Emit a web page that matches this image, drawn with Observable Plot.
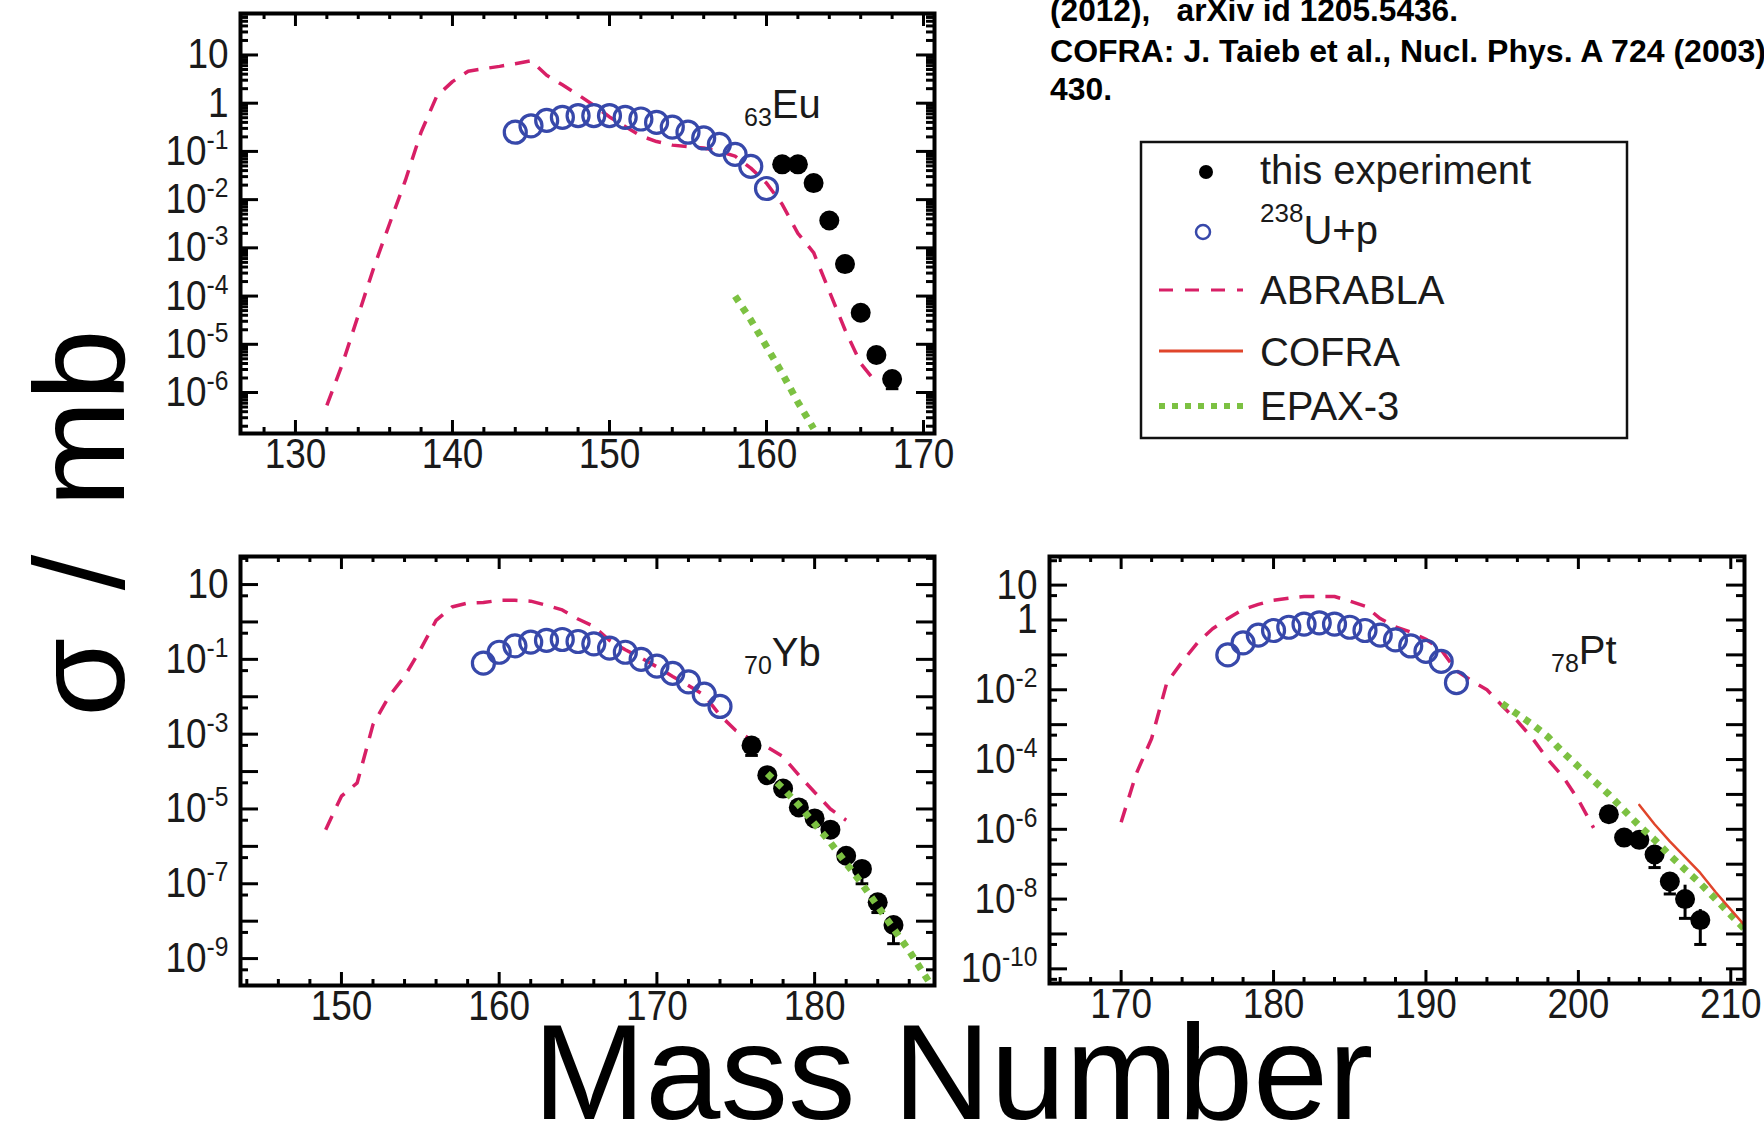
<!DOCTYPE html>
<html><head><meta charset="utf-8">
<script src="https://cdn.jsdelivr.net/npm/d3@7"></script>
<script src="https://cdn.jsdelivr.net/npm/@observablehq/plot@0.6"></script>
<style>
body{margin:0;background:#fff;}
#wrap{position:relative;width:1764px;height:1127px;overflow:hidden;background:#fff;font-family:"Liberation Sans",Arial,sans-serif;}
#wrap > svg, #wrap > div{position:absolute;}
</style></head><body><div id="wrap"></div>
<script>
// ---------------- data (sigma in mb vs mass number) ----------------
// 63Eu
const euUpMass = [144,145,146,147,148,149,150,151,152,153,154,155,156,157,158,159,160];
const euUpSigma = [0.25,0.34,0.44,0.51,0.55,0.55,0.55,0.51,0.47,0.40,0.32,0.25,0.19,0.14,0.087,0.049,0.017];
const euExpMass = [161,162,163,164,165,166,167,168];
const euExpSigma = [0.054,0.054,0.022,0.0037,4.6e-4,4.5e-5,6e-6,1.9e-6];
const euErrMass = [168];
const euErrLo = [1.2e-6];
const euErrHi = [1.9e-6];
const euAbrMass = [132,133,134,135,136,137,138,139,140,141,142,143,144,145,146,147,148,149,150,151,152,153,154,155,156,157,158,159,160,161,162,163,164,165,166,167];
const euAbrSigma = [5.4e-7,4e-6,4e-5,4e-4,3.2e-3,0.025,0.25,1.4,2.8,4.6,5.2,5.8,6.6,7.6,3.8,2.4,1.5,0.9,0.52,0.33,0.21,0.16,0.135,0.126,0.118,0.1,0.08,0.045,0.022,0.008,0.002,8e-4,1.26e-4,2e-5,4e-6,1.6e-6];
const euEpaxMass = [158,159,160,161,162,163];
const euEpaxSigma = [1e-4,3.2e-5,9e-6,2.5e-6,6.3e-7,1.8e-7];

// 70Yb
const ybUpMass = [159,160,161,162,163,164,165,166,167,168,169,170,171,172,173,174];
const ybUpSigma = [0.079,0.155,0.23,0.29,0.32,0.34,0.30,0.26,0.20,0.155,0.1,0.066,0.042,0.025,0.0117,0.0055];
const ybExpMass = [176,177,178,179,180,181,182,183,184,185];
const ybExpSigma = [5e-4,8e-5,3.5e-5,1.1e-5,5.6e-6,2.8e-6,5.6e-7,2.5e-7,3.2e-8,7.9e-9];
const ybErrMass = [176,183,184,185];
const ybErrLo = [2.7e-4,1e-7,1.7e-8,2.5e-9];
const ybErrHi = [5e-4,2.5e-7,3.2e-8,7.9e-9];
const ybAbrMass = [149,150,151,152,153,154,155,156,157,158,159,160,161,162,163,164,165,166,167,168,169,170,171,172,173,174,175,176,177,178,179,180,181,182];
const ybAbrSigma = [2.8e-6,2.2e-5,5e-5,1.8e-3,0.01,0.035,0.18,1.1,2.5,3.2,3.3,3.8,3.8,3.6,2.8,2.1,1.2,0.76,0.32,0.18,0.11,0.063,0.035,0.02,0.011,3.2e-3,1.26e-3,7e-4,4.5e-4,2.5e-4,8e-5,2.8e-5,1e-5,5e-6];
const ybEpaxMass = [177,178,179,180,181,182,183,184,185,186,187,188];
const ybEpaxSigma = [8.9e-5,3.5e-5,1.26e-5,4e-6,1.26e-6,3.5e-7,1e-7,2.5e-8,6.3e-9,1.6e-9,3.5e-10,7.9e-11];

// 78Pt
const ptUpMass = [177,178,179,180,181,182,183,184,185,186,187,188,189,190,191,192];
const ptUpSigma = [0.1,0.22,0.37,0.5,0.62,0.76,0.83,0.76,0.62,0.5,0.37,0.27,0.18,0.126,0.065,0.016];
const ptExpMass = [202,203,204,205,206,207,208];
const ptExpSigma = [2.7e-6,5.8e-7,5e-7,1.9e-7,3.2e-8,1e-8,2.5e-9];
const ptErrMass = [202,205,206,207,208];
const ptErrLo = [2e-6,8e-8,1.4e-8,2.8e-9,5e-10];
const ptErrHi = [3.5e-6,3.5e-7,5e-8,2.5e-8,5e-9];
const ptAbrMass = [170,171,172,173,174,175,176,177,178,179,180,181,182,183,184,185,186,187,188,189,190,191,192,193,194,195,196,197,198,199,200,201];
const ptAbrSigma = [1.6e-6,4e-5,4e-4,0.016,0.063,0.22,0.56,1.1,2.0,2.8,3.7,4.2,4.7,4.7,4.7,3.5,2.5,1.1,0.63,0.45,0.28,0.14,0.035,0.018,0.01,3.5e-3,1.26e-3,4e-4,1e-4,3.2e-5,7e-6,1.1e-6];
const ptEpaxMass = [195,196,197,198,199,200,201,202,203,204,205,206,207,208,209,210,211];
const ptEpaxSigma = [4e-3,2e-3,1e-3,4.5e-4,1.6e-4,6.3e-5,2.5e-5,1e-5,3.5e-6,1.26e-6,5e-7,1.8e-7,7e-8,2.8e-8,1e-8,3.5e-9,1.26e-9];
const ptCofraMass = [204,205,206,207,208,209,210,211];
const ptCofraSigma = [5e-6,1.4e-6,4.5e-7,1.6e-7,5.6e-8,1.6e-8,5e-9,1.6e-9];

// tick labels
const euXTicks = [130,140,150,160,170];
const euYTicks = [10,1,1e-1,1e-2,1e-3,1e-4,1e-5,1e-6];
const ybXTicks = [150,160,170,180];
const ybYTicks = [10,1e-1,1e-3,1e-5,1e-7,1e-9];
const ptXTicks = [170,180,190,200,210];
const ptYTicks = [10,1,1e-2,1e-4,1e-6,1e-8,1e-10];

const legendLabels = ["this experiment","U+p","ABRABLA","COFRA","EPAX-3"];

// ---------------- style ----------------
const C_UP = "#3748aa", C_ABR = "#d81f66", C_EPAX = "#7cc142", C_COFRA = "#e0452b";
const FONT = "'Liberation Sans', Arial, sans-serif";

const zip = (m, s) => m.map((A, i) => ({A, s: s[i]}));
const errZip = (m, lo, hi) => m.map((A, i) => ({A, lo: lo[i], hi: hi[i]}));
const decFmt = d => { const e = Math.round(Math.log10(d)); return e === 1 ? "10" : e === 0 ? "1" : "10^" + e; };

function panel(cfg) {
  const iw = cfg.width - cfg.ml - cfg.mr, ih = cfg.height - cfg.mt - cfg.mb;
  const [ylo, yhi] = cfg.yDomain;
  const majorY = [], minorY = [];
  for (let k = Math.floor(Math.log10(ylo)); k <= Math.ceil(Math.log10(yhi)); k++) {
    const v = Math.pow(10, k);
    if (v >= ylo && v <= yhi) majorY.push(v);
    for (const m of cfg.minorMult) { const u = m * v; if (u >= ylo && u <= yhi) minorY.push(u); }
  }
  const [xlo, xhi] = cfg.xDomain;
  const majorX = [], minorX = [];
  for (let x = Math.ceil(xlo / 2) * 2; x <= xhi; x += 2) (x % 10 === 0 ? majorX : minorX).push(x);
  const tk = {stroke: "black", strokeWidth: 3};
  const marks = [
    Plot.line(zip(cfg.abrMass, cfg.abrSig), {x: "A", y: "s", stroke: C_ABR, strokeWidth: 3.5, strokeDasharray: "15,11", strokeLinecap: "butt", strokeLinejoin: "miter", clip: true}),
    Plot.dot(zip(cfg.upMass, cfg.upSig), {x: "A", y: "s", r: 11, fill: "none", stroke: C_UP, strokeWidth: 3.2}),
    Plot.ruleX(errZip(cfg.errMass, cfg.errLo, cfg.errHi), {x: "A", y1: "lo", y2: "hi", stroke: "black", strokeWidth: 3}),
    Plot.link(errZip(cfg.errMass, cfg.errLo, cfg.errHi), {x1: d => d.A - 0.4, x2: d => d.A + 0.4, y1: "lo", y2: "lo", stroke: "black", strokeWidth: 3}),
    Plot.dot(zip(cfg.expMass, cfg.expSig), {x: "A", y: "s", r: 10, fill: "black"}),
    cfg.epaxMass ? Plot.line(zip(cfg.epaxMass, cfg.epaxSig), {x: "A", y: "s", stroke: C_EPAX, strokeWidth: 7, strokeDasharray: "6.5,7", strokeLinecap: "butt", strokeLinejoin: "miter", clip: true}) : null,
    cfg.cofraMass ? Plot.line(zip(cfg.cofraMass, cfg.cofraSig), {x: "A", y: "s", stroke: C_COFRA, strokeWidth: 2.5, clip: true}) : null,
    // inward ticks on all four sides
    Plot.tickY(majorY, {y: d => d, insetRight: iw - 18, ...tk}),
    Plot.tickY(majorY, {y: d => d, insetLeft: iw - 18, ...tk}),
    Plot.tickY(minorY, {y: d => d, insetRight: iw - 8, ...tk}),
    Plot.tickY(minorY, {y: d => d, insetLeft: iw - 8, ...tk}),
    Plot.tickX(majorX, {x: d => d, insetTop: ih - 13, ...tk}),
    Plot.tickX(majorX, {x: d => d, insetBottom: ih - 13, ...tk}),
    Plot.tickX(minorX, {x: d => d, insetTop: ih - 6, ...tk}),
    Plot.tickX(minorX, {x: d => d, insetBottom: ih - 6, ...tk}),
    Plot.frame({stroke: "black", strokeWidth: 4}),
    Plot.axisX({ticks: cfg.xTicks, tickSize: 0, tickPadding: 5, label: null, tickFormat: d => String(d), fill: "#1a1a1a"}),
    Plot.axisY({ticks: cfg.yTicks, tickSize: 0, tickPadding: 12, label: null, tickFormat: decFmt, fill: "#1a1a1a"})
  ].filter(Boolean);
  const svg = Plot.plot({
    width: cfg.width, height: cfg.height,
    marginLeft: cfg.ml, marginRight: cfg.mr, marginTop: cfg.mt, marginBottom: cfg.mb,
    x: {domain: cfg.xDomain, label: null},
    y: {type: "log", domain: cfg.yDomain, label: null},
    style: {fontFamily: FONT, fontSize: "42px", background: "transparent", overflow: "visible"},
    marks
  });
  // condensed tick labels + superscript exponents
  svg.querySelectorAll('g[aria-label$="tick label"] text').forEach(t => {
    t.setAttribute("font-size", "42");
    const tr = t.getAttribute("transform");
    if (tr) t.setAttribute("transform", tr + " scale(0.88,1)");
    else {
      const x = t.getAttribute("x") || 0, y = t.getAttribute("y") || 0;
      t.removeAttribute("x"); t.removeAttribute("y");
      t.setAttribute("transform", `translate(${x},${y}) scale(0.88,1)`);
    }
    const s = t.textContent, i = s.indexOf("^");
    if (i < 0) return;
    t.textContent = s.slice(0, i);
    const sp = document.createElementNS("http://www.w3.org/2000/svg", "tspan");
    sp.setAttribute("font-size", "28");
    sp.setAttribute("dy", "-16");
    sp.textContent = s.slice(i + 1);
    t.appendChild(sp);
  });
  svg.style.position = "absolute";
  svg.style.left = cfg.left + "px";
  svg.style.top = cfg.top + "px";
  return svg;
}

const wrap = document.getElementById("wrap");

wrap.appendChild(panel({
  left: 140, top: 0, width: 820, height: 490, ml: 100, mr: 26, mt: 13, mb: 57,
  xDomain: [126.5, 170.7], yDomain: [Math.pow(10, -6.85), Math.pow(10, 1.86)],
  minorMult: [2,3,4,5,6,7,8,9], xTicks: euXTicks, yTicks: euYTicks,
  upMass: euUpMass, upSig: euUpSigma, expMass: euExpMass, expSig: euExpSigma,
  errMass: euErrMass, errLo: euErrLo, errHi: euErrHi,
  abrMass: euAbrMass, abrSig: euAbrSigma, epaxMass: euEpaxMass, epaxSig: euEpaxSigma
}));
wrap.appendChild(panel({
  left: 140, top: 520, width: 820, height: 530, ml: 100, mr: 26, mt: 36, mb: 65,
  xDomain: [143.6, 187.6], yDomain: [Math.pow(10, -9.72), Math.pow(10, 1.75)],
  minorMult: [5], xTicks: ybXTicks, yTicks: ybYTicks,
  upMass: ybUpMass, upSig: ybUpSigma, expMass: ybExpMass, expSig: ybExpSigma,
  errMass: ybErrMass, errLo: ybErrLo, errHi: ybErrHi,
  abrMass: ybAbrMass, abrSig: ybAbrSigma, epaxMass: ybEpaxMass, epaxSig: ybEpaxSigma
}));
wrap.appendChild(panel({
  left: 949, top: 520, width: 815, height: 530, ml: 100, mr: 20, mt: 36, mb: 67,
  xDomain: [165.3, 210.9], yDomain: [Math.pow(10, -10.42), Math.pow(10, 1.82)],
  minorMult: [5], xTicks: ptXTicks, yTicks: ptYTicks,
  upMass: ptUpMass, upSig: ptUpSigma, expMass: ptExpMass, expSig: ptExpSigma,
  errMass: ptErrMass, errLo: ptErrLo, errHi: ptErrHi,
  abrMass: ptAbrMass, abrSig: ptAbrSigma, epaxMass: ptEpaxMass, epaxSig: ptEpaxSigma,
  cofraMass: ptCofraMass, cofraSig: ptCofraSigma
}));

// ---------------- annotations, titles, legend ----------------
const ov = d3.select(wrap).append("svg")
  .attr("width", 1764).attr("height", 1127)
  .style("left", "0px").style("top", "0px").style("pointer-events", "none")
  .style("font-family", FONT);

// element labels
function elem(x, y, z, sym) {
  const t = ov.append("text").attr("x", x).attr("y", y).attr("fill", "#1a1a1a");
  t.append("tspan").attr("font-size", 25).attr("dy", 8).text(z);
  t.append("tspan").attr("font-size", 40).attr("dy", -8).text(sym);
}
elem(744, 118, "63", "Eu");
elem(744, 666, "70", "Yb");
elem(1551, 664, "78", "Pt");

// axis titles
ov.append("text").attr("x", 953).attr("y", 1119).attr("text-anchor", "middle")
  .attr("font-size", 135).attr("fill", "#000").text("Mass Number");
ov.append("text").attr("transform", "translate(124,523) rotate(-90)").attr("text-anchor", "middle")
  .attr("font-size", 128).attr("word-spacing", 12).attr("fill", "#000").text("σ / mb");

// reference text
const refs = [
  {t: "(2012),   arXiv id 1205.5436.", y: 21, w: 408},
  {t: "COFRA: J. Taieb et al., Nucl. Phys. A 724 (2003)", y: 62, w: 716},
  {t: "430.", y: 100, w: 62}
];
refs.forEach(r => ov.append("text").attr("x", 1050).attr("y", r.y)
  .attr("font-size", 31).attr("font-weight", "bold").attr("fill", "#000")
  .style("white-space", "pre")
  .attr("textLength", r.w).attr("lengthAdjust", "spacingAndGlyphs").text(r.t));

// legend
const lg = ov.append("g");
lg.append("rect").attr("x", 1141).attr("y", 142).attr("width", 486).attr("height", 296)
  .attr("fill", "white").attr("stroke", "#111").attr("stroke-width", 2.5);
lg.append("circle").attr("cx", 1206).attr("cy", 172).attr("r", 7).attr("fill", "black");
lg.append("circle").attr("cx", 1203).attr("cy", 232).attr("r", 7).attr("fill", "none").attr("stroke", C_UP).attr("stroke-width", 2.5);
lg.append("line").attr("x1", 1159).attr("x2", 1243).attr("y1", 290).attr("y2", 290)
  .attr("stroke", C_ABR).attr("stroke-width", 3).attr("stroke-dasharray", "14,12");
lg.append("line").attr("x1", 1159).attr("x2", 1243).attr("y1", 351).attr("y2", 351)
  .attr("stroke", C_COFRA).attr("stroke-width", 3);
lg.append("line").attr("x1", 1159).attr("x2", 1243).attr("y1", 406).attr("y2", 406)
  .attr("stroke", C_EPAX).attr("stroke-width", 6).attr("stroke-dasharray", "6,7");
const lt = (y) => lg.append("text").attr("x", 1260).attr("y", y).attr("font-size", 40).attr("fill", "#1a1a1a");
lt(184).text(legendLabels[0]);
const up = lt(244);
up.append("tspan").attr("font-size", 26).attr("dy", -22).text("238");
up.append("tspan").attr("dy", 22).text(legendLabels[1]);
lt(304).text(legendLabels[2]);
lt(366).text(legendLabels[3]);
lt(420).text(legendLabels[4]);
</script></body></html>
